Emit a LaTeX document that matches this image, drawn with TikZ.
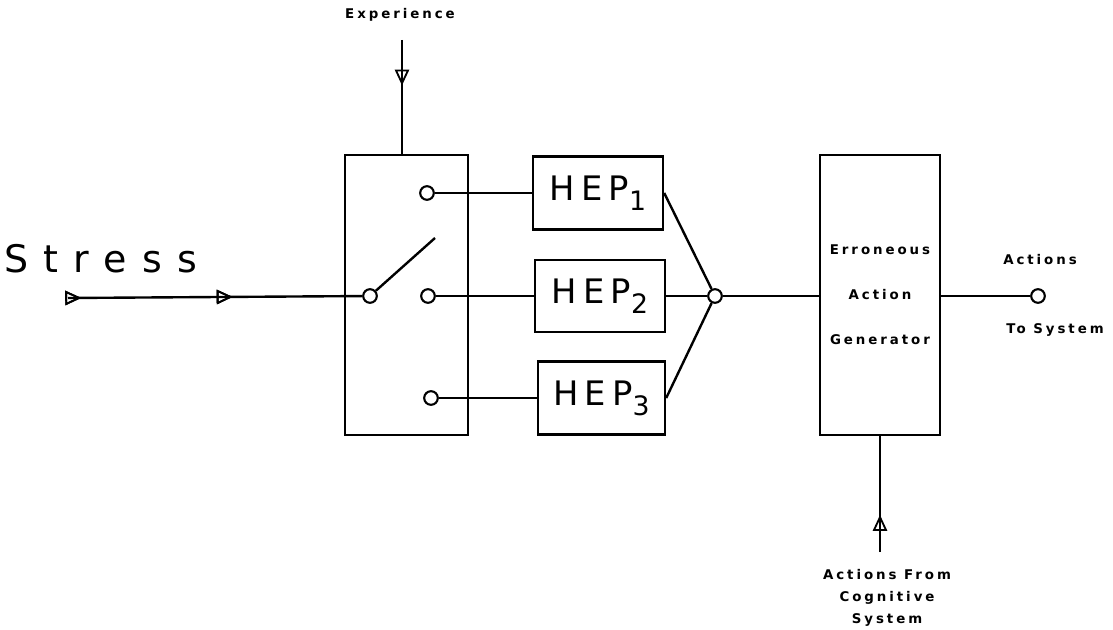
\documentclass[tikz,border=0pt]{standalone}
\usepackage{fontspec}
\usetikzlibrary{arrows.meta,decorations.markings}
\newfontfamily\plotfont[LetterSpace=40]{DejaVu Sans}
\newfontfamily\hepfont[LetterSpace=18]{DejaVu Sans}
\newfontfamily\lblfont[LetterSpace=22]{DejaVu Sans Bold}
\newcommand{\hepsub}[1]{\raisebox{-0.55ex}{\fontsize{19}{19}\selectfont #1}}

\tikzset{
  blk/.style = {draw, line width=1.7pt, inner sep=0pt},
  contact/.style = {circle, draw, line width=1.5pt, fill=white, inner sep=0pt, minimum size=0.34cm},
  wire/.style = {line width=1.7pt},
  lbl/.style = {font=\lblfont\fontsize{9.5}{15.5}\selectfont, align=center, inner sep=0pt},
  opentip/.style = {decoration={markings, mark=at position #1 with
      {\arrow{Triangle[open, length=0.4cm, width=0.36cm, line width=1.3pt]}}}, postaction={decorate}}
}

\begin{document}
\begin{tikzpicture}[x=0.025cm, y=-0.025cm]
\useasboundingbox (0,0) rectangle (1113,630);

% blocks
\node[blk, minimum width=3.075cm, minimum height=7cm] (sw) at (406.5,295) {};
\node[blk, minimum width=3.25cm, minimum height=1.825cm, font=\hepfont\fontsize{24}{24}\selectfont] (hep1) at (598,193) {HEP\hepsub{1}};
\node[blk, minimum width=3.25cm, minimum height=1.8cm, font=\hepfont\fontsize{24}{24}\selectfont] (hep2) at (600,296) {HEP\hepsub{2}};
\node[blk, minimum width=3.175cm, minimum height=1.825cm, font=\hepfont\fontsize{24}{24}\selectfont] (hep3) at (601.5,398) {HEP\hepsub{3}};
\node[blk, minimum width=3cm, minimum height=7cm, font=\lblfont\fontsize{9.5}{32}\selectfont, align=center] (eag) at (880,295) {Erroneous\\Action\\Generator};

% switch contacts
\node[contact] (piv) at (370,296) {};
\node[contact] (c1) at (427,193) {};
\node[contact] (c2) at (428,296) {};
\node[contact] (c3) at (431,398) {};
\node[contact] (mrg) at (715,296) {};
\node[contact] (out) at (1038,296) {};
\coordinate (armtip) at (435,238);

% inputs
\coordinate (stressin) at (68,298);
\coordinate (expin) at (402,40);
\coordinate (cogin) at (880,552);

% texts
\node[font=\plotfont\fontsize{27}{27}\selectfont, anchor=west, inner sep=0pt] (stress) at (4,259) {Stress};
\node[lbl] (exp) at (400,15) {Experience};
\node[lbl] (act) at (1040,260) {Actions};
\node[lbl] (tosys) at (1055,330) {To System};
\node[lbl] (cog) at (887,598) {Actions From\\Cognitive\\System};

% wires
\draw[wire, opentip=0.045, opentip=0.56] (stressin) -- (piv);
\draw[wire, opentip=0.4] (expin) -- (expin |- sw.north);
\draw[wire] (piv) -- (armtip);
\draw[wire] (c1) -- (c1 -| hep1.west);
\draw[wire] (c2) -- (c2 -| hep2.west);
\draw[wire] (c3) -- (c3 -| hep3.west);
\draw[wire] (hep1.east) -- (mrg);
\draw[wire] (hep2.east) -- (mrg);
\draw[wire] (hep3.east) -- (mrg);
\draw[wire] (mrg) -- (eag.west |- mrg);
\draw[wire] (eag.east |- out) -- (out);
\draw[wire, opentip=0.32] (cogin) -- (cogin |- eag.south);
\end{tikzpicture}
\end{document}
